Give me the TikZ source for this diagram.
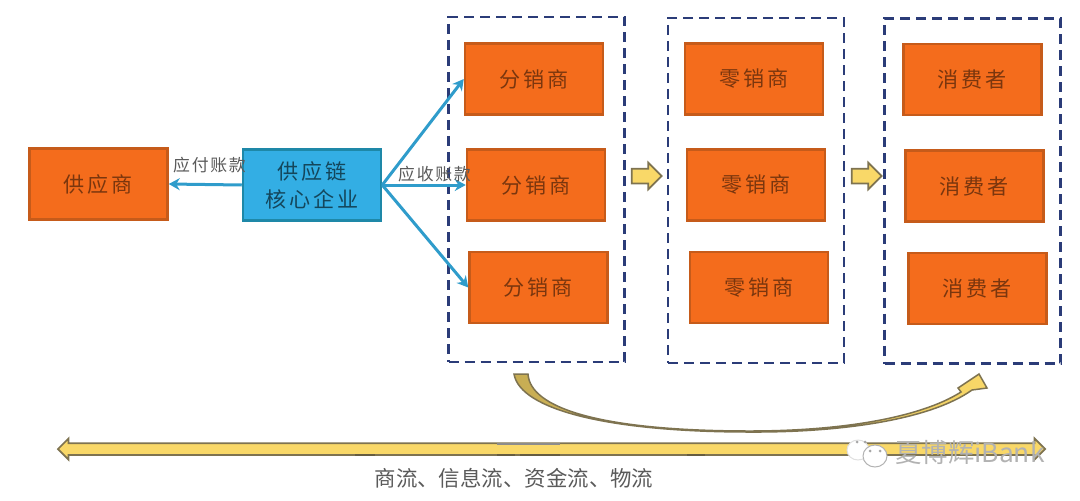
\documentclass[tikz,border=0pt]{standalone}
\usepackage{fontspec}
\usetikzlibrary{arrows.meta,shapes.arrows,shapes.geometric}
\newfontfamily\boxfont[LetterSpace=14]{Noto Sans CJK SC}
\newfontfamily\notefont[LetterSpace=10]{Noto Sans CJK SC}
\newfontfamily\flowfont{Noto Sans CJK SC}
\definecolor{boxorange}{HTML}{F46C1C}
\definecolor{boxedge}{HTML}{C65B1A}
\definecolor{coreblue}{HTML}{33AEE4}
\definecolor{coreedge}{HTML}{1E88A8}
\definecolor{linkblue}{HTML}{2F9CCB}
\definecolor{groupblue}{HTML}{2B3C78}
\definecolor{arrowgold}{HTML}{F9D868}
\definecolor{arrowedge}{HTML}{7E7350}
\definecolor{labelgray}{HTML}{5A5A5A}
\tikzset{
  party/.style={draw=boxedge, fill=boxorange, line width=0.5mm, minimum width=27.6mm, minimum height=14.2mm, inner sep=0pt, text=black!50!boxorange, font=\boxfont\fontsize{12}{16}\selectfont, align=center},
  corefirm/.style={party, draw=coreedge, fill=coreblue, text=black!60!coreblue},
  group/.style={draw=groupblue, line width=0.5mm, dash pattern=on 2mm off 1.2mm, minimum width=35.2mm, minimum height=69mm, inner sep=0pt},
  link/.style={draw=linkblue, line width=0.6mm, -{Stealth[length=2.2mm,width=2.4mm]}},
  note/.style={inner sep=0pt, text=labelgray, font=\notefont\fontsize{9.6}{11}\selectfont},
  stagearrow/.style={single arrow, draw=arrowedge, fill=arrowgold, line width=0.35mm, minimum height=6mm, minimum width=5mm, single arrow head extend=1.2mm, inner xsep=0pt, inner ysep=1.3mm},
  bubble/.style={ellipse, draw=black!30, fill=white, line width=0.2mm, inner sep=0pt},
  bubbledot/.style={circle, fill=black!35, minimum size=0.6mm, inner sep=0pt}
}
\begin{document}
\begin{tikzpicture}[x=0.2mm, y=-0.2mm]
  \useasboundingbox (0,0) rectangle (1080,500);

  % Gruppi tratteggiati
  \node[group] (G1) at (536.5,189.5) {};
  \node[group] (G2) at (756,190.5) {};
  \node[group] (G3) at (972.5,191) {};

  % Fornitore e impresa centrale
  \node[party] (S) at (98.5,184) {供应商};
  \node[corefirm] (K) at (312,185) {供应链\\核心企业};

  % Distributori
  \node[party] (D1) at (534,79) {分销商};
  \node[party] (D2) at (536,185) {分销商};
  \node[party] (D3) at (538.5,287.5) {分销商};

  % Dettaglianti
  \node[party] (R1) at (754,79) {零销商};
  \node[party] (R2) at (756,185) {零销商};
  \node[party] (R3) at (759,287.5) {零销商};

  % Consumatori
  \node[party] (C1) at (972.5,79.5) {消费者};
  \node[party] (C2) at (974.5,186) {消费者};
  \node[party] (C3) at (977.5,288.5) {消费者};

  % Collegamenti
  \draw[link] (K.west) -- (S.east);
  \draw[link] (K.east) -- (D1.west);
  \draw[link] (K.east) -- (D2.west);
  \draw[link] (K.east) -- (D3.west);
  \node[note] (N1) at (209.5,165) {应付账款};
  \node[note] (N2) at (434.5,174) {应收账款};

  % Frecce fra i gruppi
  \node[stagearrow] (A1) at (643,176) {};
  \node[stagearrow] (A2) at (863,176) {};

  % Freccia curva
  \path[left color=arrowgold!80!black, middle color=black!50, right color=arrowgold, draw=arrowedge, line width=0.3mm]
    (514,374) -- (528,374) .. controls (530,408) and (600,431) .. (750,431)
    .. controls (840,431) and (920,418) .. (961,392) -- (958,388) -- (979,374) -- (987,388) -- (972,390)
    .. controls (930,420) and (840,432.5) .. (750,432)
    .. controls (610,432) and (520,410) .. (514,374) -- cycle;

  % Freccia lunga
  \node[double arrow, draw=arrowedge, fill=arrowgold, line width=0.35mm, minimum height=197.4mm, minimum width=3.9mm, double arrow head extend=0.95mm, inner xsep=0pt, inner ysep=1mm] (L) at (551.5,449) {};
  \foreach \xa/\xb in {355/375, 497/515, 520/560, 687/705}
    \draw[arrowedge!80!black, line width=0.4mm] (\xa,455) -- (\xb,455);
  \draw[black!45, line width=0.3mm] (497,444) -- (560,444);
  \node[inner sep=0pt, text=labelgray, font=\flowfont\fontsize{12.2}{14}\selectfont] (F) at (514,478) {商流、信息流、资金流、物流};

  % Filigrana
  \node[bubble, draw=black!12, minimum width=4.4mm, minimum height=4mm] (W1) at (858,450) {};
  \node[bubble, minimum width=4.8mm, minimum height=4.4mm] (W2) at (875,456) {};
  \node[bubbledot] (W3) at (857,442) {};
  \node[bubbledot] (W4) at (865,442) {};
  \node[bubbledot] (W5) at (870,451) {};
  \node[bubbledot] (W6) at (880,451) {};
  \node[inner sep=0pt, text=black!30, font=\flowfont\fontsize{15}{17}\selectfont] (W7) at (970,452) {夏博辉iBank};
\end{tikzpicture}
\end{document}
